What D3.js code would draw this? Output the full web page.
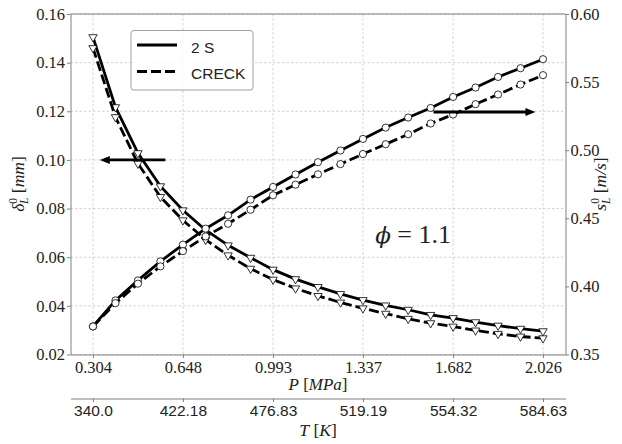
<!DOCTYPE html>
<html>
<head>
<meta charset="utf-8">
<script src="https://cdn.jsdelivr.net/npm/d3@7"></script>
<style>
  body { margin: 0; background: #fff; }
  svg text { fill: #222; }
</style>
</head>
<body>
<svg id="chart" width="622" height="444"></svg>
<script>
// pressure grid (MPa), 3 .. 20 atm
var pressure = [0.304, 0.390, 0.476, 0.562, 0.648, 0.735, 0.821, 0.907, 0.993, 1.079, 1.165,
    1.251, 1.337, 1.424, 1.510, 1.596, 1.682, 1.768, 1.854, 1.940, 2.026];

// flame thickness delta_L (mm), left axis
var delta2S = [0.1505, 0.1217, 0.1028, 0.0892, 0.0793, 0.0712, 0.0649, 0.0598, 0.0549, 0.0510, 0.0478,
    0.0449, 0.0424, 0.0402, 0.0384, 0.0363, 0.0350, 0.0333, 0.0319, 0.0306, 0.0296];
var deltaCRECK = [0.1460, 0.1176, 0.0985, 0.0848, 0.0752, 0.0672, 0.0608, 0.0553, 0.0508, 0.0472, 0.0441,
    0.0414, 0.0390, 0.0368, 0.0347, 0.0329, 0.0315, 0.0299, 0.0285, 0.0274, 0.0267];

// laminar flame speed s_L (m/s), right axis
var sL2S = [0.3706, 0.3897, 0.4044, 0.4184, 0.4306, 0.4424, 0.4522, 0.4637, 0.4730, 0.4822, 0.4912,
    0.4998, 0.5083, 0.5166, 0.5240, 0.5310, 0.5391, 0.5460, 0.5538, 0.5602, 0.5668];
var sLCRECK = [0.3706, 0.3877, 0.4020, 0.4147, 0.4259, 0.4367, 0.4460, 0.4563, 0.4669, 0.4747, 0.4823,
    0.4898, 0.4972, 0.5044, 0.5117, 0.5196, 0.5262, 0.5338, 0.5409, 0.5482, 0.5551];

var pTicks = [0.304, 0.648, 0.993, 1.337, 1.682, 2.026];
var pLabels = ["0.304", "0.648", "0.993", "1.337", "1.682", "2.026"];
var tLabels = ["340.0", "422.18", "476.83", "519.19", "554.32", "584.63"];
var leftTicks = [0.02, 0.04, 0.06, 0.08, 0.10, 0.12, 0.14, 0.16];
var rightTicks = [0.35, 0.40, 0.45, 0.50, 0.55, 0.60];
var seriesNames = ["2 S", "CRECK"];

// plot box
const X0 = 70.5, X1 = 565.5, Y0 = 14, Y1 = 354.5;
const serif = "'Liberation Serif', serif";
const sans = "'Liberation Sans', sans-serif";

const svg = d3.select("#chart");

let pad = (d3.max(pressure) - d3.min(pressure)) * 0.05;
const x = d3.scaleLinear().domain([d3.min(pressure) - pad, d3.max(pressure) + pad]).range([X0, X1]);
const yL = d3.scaleLinear().domain([0.02, 0.16]).range([Y1, Y0]);
const yR = d3.scaleLinear().domain([0.35, 0.60]).range([Y1, Y0]);

// grid
const grid = svg.append("g")
    .attr("stroke", "#c8c8c8").attr("stroke-width", 0.8).attr("stroke-dasharray", "2.5,2");
grid.selectAll(".vx").data(pTicks).enter().append("line")
    .attr("x1", d => x(d)).attr("x2", d => x(d)).attr("y1", Y0).attr("y2", Y1);
grid.selectAll(".hy").data(leftTicks).enter().append("line")
    .attr("x1", X0).attr("x2", X1).attr("y1", d => yL(d)).attr("y2", d => yL(d));

function styleAxis(g, font, size) {
    g.select(".domain").attr("stroke", "#808080").attr("stroke-width", 1);
    g.selectAll(".tick line").attr("stroke", "#808080");
    g.selectAll(".tick text").attr("font-family", font).attr("font-size", size).style("fill", "#222");
}

// left axis
svg.append("g").attr("transform", `translate(${X0},0)`)
    .call(d3.axisLeft(yL).tickValues(leftTicks).tickFormat(d3.format(".2f")).tickSize(3.5).tickPadding(2).tickSizeOuter(0))
    .call(g => styleAxis(g, serif, 16.5));

// right axis
svg.append("g").attr("transform", `translate(${X1},0)`)
    .call(d3.axisRight(yR).tickValues(rightTicks).tickFormat(d3.format(".2f")).tickSize(3.5).tickPadding(1.5).tickSizeOuter(0))
    .call(g => styleAxis(g, serif, 16.5));

// bottom pressure axis
svg.append("g").attr("transform", `translate(0,${Y1})`)
    .call(d3.axisBottom(x).tickValues(pTicks).tickFormat((d, i) => pLabels[i]).tickSize(3.5).tickPadding(3).tickSizeOuter(0))
    .call(g => styleAxis(g, serif, 16.5));

// top spine
svg.append("line").attr("x1", X0).attr("x2", X1).attr("y1", Y0).attr("y2", Y0)
    .attr("stroke", "#808080").attr("stroke-width", 1);

// temperature axis below
svg.append("g").attr("transform", "translate(0,398.5)")
    .call(d3.axisBottom(x).tickValues(pTicks).tickFormat((d, i) => tLabels[i]).tickSize(3.5).tickPadding(2.5).tickSizeOuter(0))
    .call(g => styleAxis(g, sans, 15.5));

// axis titles
function mathLabel(sel, parts) {
    parts.forEach(function (p) {
        let t = sel.append("tspan").text(p[0]);
        if (p[1]) t.attr("font-style", "italic");
    });
}
let pl = svg.append("text").attr("x", 318).attr("y", 390).attr("text-anchor", "middle")
    .attr("font-family", serif).attr("font-size", 17);
mathLabel(pl, [["P", 1], [" [", 0], ["MPa", 1], ["]", 0]]);

let tl = svg.append("text").attr("x", 318).attr("y", 436).attr("text-anchor", "middle")
    .attr("font-family", serif).attr("font-size", 17.5);
mathLabel(tl, [["T", 1], [" [", 0], ["K", 1], ["]", 0]]);

// left label: delta_L^0 [mm]
let dl = svg.append("text").attr("transform", "translate(24,184) rotate(-90)")
    .attr("text-anchor", "middle").attr("font-family", serif).attr("font-size", 17.5);
dl.append("tspan").attr("font-style", "italic").text("δ");
dl.append("tspan").attr("font-size", 11.5).attr("dy", -7).text("0");
dl.append("tspan").attr("font-size", 11.5).attr("font-style", "italic").attr("dx", -6).attr("dy", 11).text("L");
dl.append("tspan").attr("dy", -4).text(" [");
dl.append("tspan").attr("font-style", "italic").text("mm");
dl.append("tspan").text("]");

// right label: s_L^0 [m/s]
let sl = svg.append("text").attr("transform", "translate(606,184) rotate(-90)")
    .attr("text-anchor", "middle").attr("font-family", serif).attr("font-size", 17.5);
sl.append("tspan").attr("font-style", "italic").text("s");
sl.append("tspan").attr("font-size", 11.5).attr("dy", -7).text("0");
sl.append("tspan").attr("font-size", 11.5).attr("font-style", "italic").attr("dx", -6).attr("dy", 11).text("L");
sl.append("tspan").attr("dy", -4).text(" [");
sl.append("tspan").attr("font-style", "italic").text("m/s");
sl.append("tspan").text("]");

// series
const triangle = d3.symbol().type(d3.symbolTriangle).size(30);

function drawSeries(vals, yScale, dashed, marker) {
    let line = d3.line().x((d, i) => x(pressure[i])).y(d => yScale(d));
    svg.append("path").datum(vals)
        .attr("d", line).attr("fill", "none").attr("stroke", "#000").attr("stroke-width", 2.8)
        .attr("stroke-dasharray", dashed ? "10,4" : null);
    let m = svg.append("g").selectAll("g").data(vals).enter();
    if (marker === "tri") {
        m.append("path").attr("d", triangle)
            .attr("transform", (d, i) => `translate(${x(pressure[i])},${yScale(d)}) rotate(180)`)
            .attr("fill", "#fff").attr("stroke", "#000").attr("stroke-width", 0.8);
    } else {
        m.append("circle").attr("cx", (d, i) => x(pressure[i])).attr("cy", d => yScale(d)).attr("r", 3.6)
            .attr("fill", "#fff").attr("stroke", "#000").attr("stroke-width", 0.8);
    }
}
drawSeries(delta2S, yL, false, "tri");
drawSeries(deltaCRECK, yL, true, "tri");
drawSeries(sL2S, yR, false, "circ");
drawSeries(sLCRECK, yR, true, "circ");

// arrows pointing at the axes
function arrow(xa, xb, yv) {
    let xs = x(xa), xe = x(xb), yy = yL(yv);
    let dir = xe > xs ? 1 : -1;
    svg.append("line").attr("x1", xs).attr("x2", xe - dir * 8).attr("y1", yy).attr("y2", yy)
        .attr("stroke", "#000").attr("stroke-width", 2.8);
    svg.append("path")
        .attr("d", `M${xe},${yy} L${xe - dir * 10},${yy - 4} L${xe - dir * 10},${yy + 4} Z`)
        .attr("fill", "#000");
}
arrow(0.581, 0.330, 0.10);
arrow(1.607, 1.997, 0.1197);

// phi label
let ph = svg.append("text").attr("x", 451).attr("y", 243).attr("text-anchor", "end")
    .attr("font-family", serif).attr("font-size", 26);
ph.append("tspan").attr("font-style", "italic").attr("font-family", "'DejaVu Serif', serif").attr("font-size", 23).text("ϕ");
ph.append("tspan").text(" = 1.1");

// legend
const lg = svg.append("g");
lg.append("rect").attr("x", 131).attr("y", 30.5).attr("width", 122).attr("height", 59.5).attr("rx", 3)
    .attr("fill", "#fff").attr("fill-opacity", 0.8).attr("stroke", "#a0a0a0").attr("stroke-width", 1);
seriesNames.forEach(function (name, i) {
    let yy = 45 + i * 26.5;
    lg.append("line").attr("x1", 137).attr("x2", 177).attr("y1", yy).attr("y2", yy)
        .attr("stroke", "#000").attr("stroke-width", 2.8).attr("stroke-dasharray", i ? "10,4" : null);
    lg.append("text").attr("x", 191).attr("y", yy + 7.5).attr("font-family", sans).attr("font-size", 15.5).text(name);
});
</script>
</body>
</html>
